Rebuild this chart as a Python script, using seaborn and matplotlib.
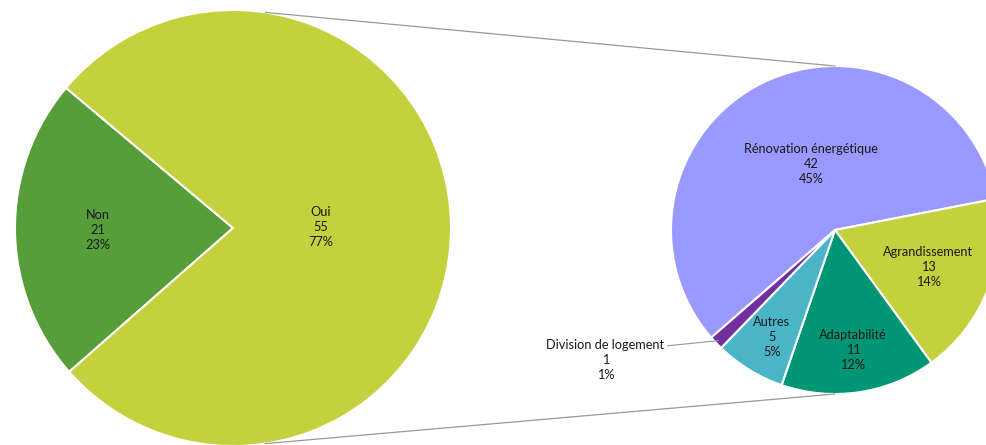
import numpy as np
import matplotlib.pyplot as plt
import seaborn as sns
from matplotlib.patches import ConnectionPatch

# Main question: yes / no
main_labels = ["Non", "Oui"]
main_counts = [21, 55]
main_shares = [23, 77]

# Breakdown of the "Oui" answers
detail_labels = ["Rénovation énergétique", "Agrandissement", "Adaptabilité",
                 "Autres", "Division de logement"]
detail_counts = [42, 13, 11, 5, 1]
detail_shares = [45, 14, 12, 5, 1]

sns.set_theme(style="white")
plt.rcParams['font.family'] = ['Lato', 'DejaVu Sans']

main_colors = sns.color_palette(["#559E3A", "#C4D13C"])
detail_colors = sns.color_palette(["#9999FF", "#C4D13C", "#009674",
                                   "#4BB5C8", "#7030A0"])

W, H = 987, 445
fig = plt.figure(figsize=(W / 100, H / 100), dpi=100)
ax1 = fig.add_axes([15 / W, -1 / H, 436 / W, 436 / H])
ax2 = fig.add_axes([671 / W, 51 / H, 328 / W, 328 / H])

wedge_kw = dict(edgecolor="white", linewidth=1.5)

# pie-of-pie: the "Oui" slice is as big as the whole breakdown
main_sizes = [main_counts[0], sum(detail_counts)]
wedges1, _ = ax1.pie(main_sizes, colors=main_colors, startangle=140,
                     counterclock=True, wedgeprops=wedge_kw)
wedges2, _ = ax2.pie(detail_counts, colors=detail_colors, startangle=221,
                     counterclock=False, wedgeprops=wedge_kw)

for ax in (ax1, ax2):
    ax.set_xlim(-1, 1)
    ax.set_ylim(-1, 1)
    ax.set_aspect("equal")
    ax.axis("off")


def mid_point(w, r, shift=0):
    a = np.deg2rad((w.theta1 + w.theta2) / 2 + shift)
    return r * np.cos(a), r * np.sin(a)


txt_kw = dict(ha="center", va="center", fontsize=9.2, linespacing=1.3,
              color="#1a1a1a")

for w, lab, n, p, d in zip(wedges1, main_labels, main_counts, main_shares,
                           [0.62, 0.40]):
    x, y = mid_point(w, d)
    ax1.text(x, y, f"{lab}\n{n}\n{p}%", **txt_kw)

for w, lab, n, p, d, s in zip(wedges2[:4], detail_labels[:4],
                              detail_counts[:4], detail_shares[:4],
                              [0.43, 0.61, 0.74, 0.76], [-6, 0, 0, 1]):
    x, y = mid_point(w, d, s)
    ax2.text(x, y, f"{lab}\n{n}\n{p}%", **txt_kw)

# small slice gets an outside label with a leader line
ax2.annotate(f"{detail_labels[4]}\n{detail_counts[4]}\n{detail_shares[4]}%",
             xy=mid_point(wedges2[4], 0.98), xytext=(-1.40, -0.79),
             arrowprops=dict(arrowstyle="-", color="#999999", lw=0.8,
                             shrinkA=0, shrinkB=0, relpos=(1.0, 0.82)),
             **txt_kw)

# connector lines between the two pies
for a1, a2 in [(81.5, 90), (-81.5, -90)]:
    p1 = (np.cos(np.deg2rad(a1)), np.sin(np.deg2rad(a1)))
    p2 = (np.cos(np.deg2rad(a2)), np.sin(np.deg2rad(a2)))
    con = ConnectionPatch(xyA=p1, coordsA=ax1.transData,
                          xyB=p2, coordsB=ax2.transData,
                          color="#999999", lw=0.9)
    fig.add_artist(con)

fig.savefig("out.png", dpi=100, facecolor="white")
